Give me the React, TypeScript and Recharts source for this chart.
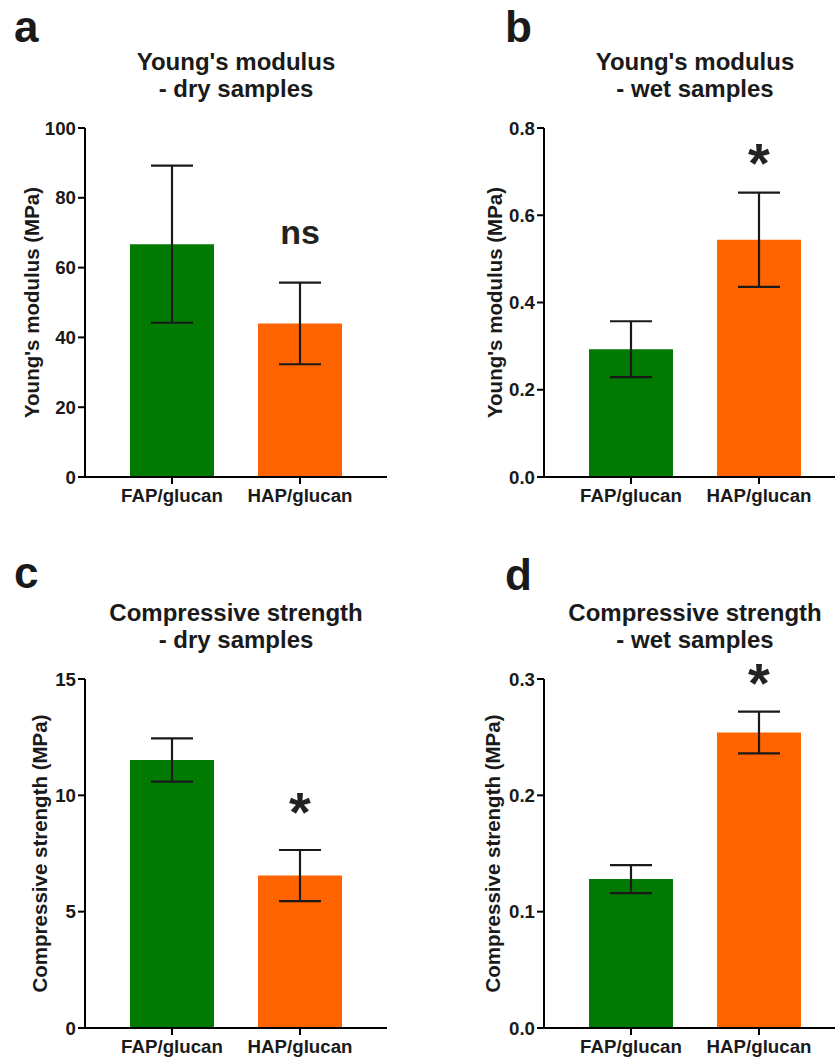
import React from 'react';
import { ComposedChart, Bar, XAxis, YAxis, ErrorBar, ReferenceDot, Cell, Label } from 'recharts';

const categories = ['FAP/glucan', 'HAP/glucan'];
const barColors = ['#007a00', '#ff6400'];

const youngDryMean = [66.7, 44.0];
const youngDryErr = [22.5, 11.7];
const youngDryTicks = [0, 20, 40, 60, 80, 100];

const youngWetMean = [0.293, 0.544];
const youngWetErr = [0.064, 0.108];
const youngWetTicks = [0, 0.2, 0.4, 0.6, 0.8];

const compDryMean = [11.52, 6.55];
const compDryErr = [0.93, 1.1];
const compDryTicks = [0, 5, 10, 15];

const compWetMean = [0.128, 0.254];
const compWetErr = [0.012, 0.018];
const compWetTicks = [0, 0.1, 0.2, 0.3];

const FONT = '"Liberation Sans", Arial, Helvetica, sans-serif';
const INK = '#1a1a1a';

type PanelProps = {
  left: number;
  top: number;
  title1: string;
  title2: string;
  yLabel: string;
  yLabelX: number;
  means: number[];
  errs: number[];
  ticks: number[];
  decimals: number;
  sigText: string;
  sigY: number;
  sigSize: number;
};

function Panel(p: PanelProps) {
  const data = categories.map((c, i) => ({ name: c, mean: p.means[i], err: p.errs[i] }));
  const W = 415;
  const H = 520;
  const plotTop = 128;
  const plotBottom = 477;
  const axisLeft = 85;
  const axisRight = 387;
  const xAxisH = 40;
  const domainMax = p.ticks[p.ticks.length - 1];
  const center = (axisLeft + axisRight) / 2;
  return (
    <div style={{ position: 'absolute', left: p.left, top: p.top, width: W, height: H }}>
      <ComposedChart
        width={W}
        height={H}
        data={data}
        margin={{ top: plotTop, right: W - axisRight, bottom: H - plotBottom - xAxisH, left: 0 }}
      >
        <XAxis
          dataKey="name"
          type="category"
          height={xAxisH}
          padding={{ left: 23, right: 23 }}
          axisLine={{ stroke: '#000', strokeWidth: 2 }}
          tickLine={{ stroke: '#000', strokeWidth: 2 }}
          tickSize={7}
          tickMargin={5}
          tick={{ fontSize: 18.7, fontWeight: 700, fill: INK, fontFamily: FONT }}
          interval={0}
        />
        <YAxis
          type="number"
          width={axisLeft}
          domain={[0, domainMax]}
          ticks={p.ticks}
          interval={0}
          tickFormatter={(v: number) => v.toFixed(p.decimals)}
          axisLine={{ stroke: '#000', strokeWidth: 2 }}
          tickLine={{ stroke: '#000', strokeWidth: 2 }}
          tickSize={7}
          tickMargin={2}
          tick={{ fontSize: 18.7, fontWeight: 700, fill: INK, fontFamily: FONT }}
        >
          <Label
            content={(lp: any) => {
              const vb = lp.viewBox || {};
              const cx = (vb.x ?? 0) + p.yLabelX;
              const cy = (vb.y ?? plotTop) + (vb.height ?? plotBottom - plotTop) / 2;
              return (
                <text
                  x={cx}
                  y={cy}
                  transform={`rotate(-90, ${cx}, ${cy})`}
                  textAnchor="middle"
                  dominantBaseline="central"
                  fontSize={20.5}
                  fontWeight={700}
                  fontFamily={FONT}
                  fill={INK}
                >
                  {p.yLabel}
                </text>
              );
            }}
          />
        </YAxis>
        <Bar dataKey="mean" barSize={84} isAnimationActive={false}>
          {data.map((d, i) => (
            <Cell key={d.name} fill={barColors[i]} />
          ))}
          <ErrorBar dataKey="err" width={21} strokeWidth={2.2} stroke={INK} direction="y" />
        </Bar>
        <ReferenceDot
          x={categories[1]}
          y={p.sigY}
          r={0}
          ifOverflow="visible"
          shape={(sp: any) => (
            <text
              x={sp.cx}
              y={sp.cy}
              textAnchor="middle"
              fontSize={p.sigSize}
              fontWeight={700}
              fontFamily={FONT}
              fill="#222"
            >
              {p.sigText}
            </text>
          )}
        />
      </ComposedChart>
      <svg
        width={W}
        height={110}
        style={{ position: 'absolute', left: 0, top: 0, overflow: 'visible', pointerEvents: 'none' }}
      >
        <text x={center} y={70} textAnchor="middle" fontSize={24} fontWeight={700} fontFamily={FONT} fill={INK}>
          {p.title1}
        </text>
        <text x={center} y={97} textAnchor="middle" fontSize={24} fontWeight={700} fontFamily={FONT} fill={INK}>
          {p.title2}
        </text>
      </svg>
    </div>
  );
}

export default function App() {
  return (
    <div
      style={{
        position: 'absolute',
        left: 0,
        top: 0,
        width: 835,
        height: 1059,
        overflow: 'hidden',
        background: '#fff',
      }}
    >
      <Panel
        left={0}
        top={0}
        title1="Young's modulus"
        title2="- dry samples"
        yLabel="Young's modulus (MPa)"
        yLabelX={31}
        means={youngDryMean}
        errs={youngDryErr}
        ticks={youngDryTicks}
        decimals={0}
        sigText="ns"
        sigY={66.8}
        sigSize={34}
      />
      <Panel
        left={459}
        top={0}
        title1="Young's modulus"
        title2="- wet samples"
        yLabel="Young's modulus (MPa)"
        yLabelX={35}
        means={youngWetMean}
        errs={youngWetErr}
        ticks={youngWetTicks}
        decimals={1}
        sigText="*"
        sigY={0.6765}
        sigSize={56}
      />
      <Panel
        left={0}
        top={551}
        title1="Compressive strength"
        title2="- dry samples"
        yLabel="Compressive strength (MPa)"
        yLabelX={39}
        means={compDryMean}
        errs={compDryErr}
        ticks={compDryTicks}
        decimals={0}
        sigText="*"
        sigY={8.47}
        sigSize={56}
      />
      <Panel
        left={459}
        top={551}
        title1="Compressive strength"
        title2="- wet samples"
        yLabel="Compressive strength (MPa)"
        yLabelX={33}
        means={compWetMean}
        errs={compWetErr}
        ticks={compWetTicks}
        decimals={1}
        sigText="*"
        sigY={0.2802}
        sigSize={56}
      />
      <svg
        width={835}
        height={1059}
        style={{ position: 'absolute', left: 0, top: 0, pointerEvents: 'none' }}
      >
        <text x={14} y={42} fontSize={44} fontWeight={700} fontFamily={FONT} fill={INK}>a</text>
        <text x={505} y={42} fontSize={44} fontWeight={700} fontFamily={FONT} fill={INK}>b</text>
        <text x={14} y={588} fontSize={44} fontWeight={700} fontFamily={FONT} fill={INK}>c</text>
        <text x={505} y={590} fontSize={44} fontWeight={700} fontFamily={FONT} fill={INK}>d</text>
      </svg>
    </div>
  );
}
